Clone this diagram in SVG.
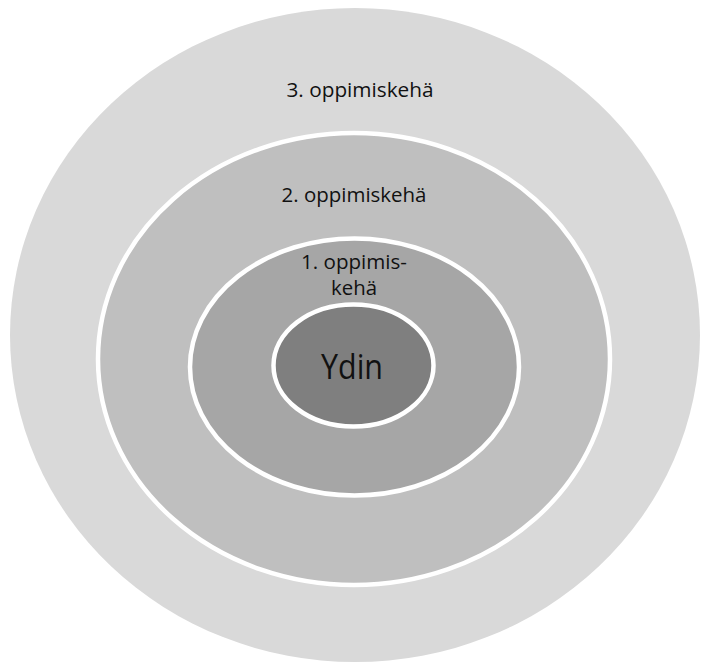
<svg xmlns="http://www.w3.org/2000/svg" width="701" height="663" viewBox="0 0 701 663">
<style>
.ring{stroke:#ffffff;stroke-width:4.5}
.lbl{font-family:"Open Sans","Liberation Sans",sans-serif;font-size:19.5px;fill:#111111;text-anchor:middle}
</style>
<rect width="701" height="663" fill="#ffffff"/>
<g id="ring3">
<ellipse cx="355" cy="335" rx="345" ry="327" fill="#d9d9d9"/>
<text class="lbl" x="360" y="97" textLength="147" lengthAdjust="spacingAndGlyphs">3. oppimiskehä</text>
</g>
<g id="ring2">
<ellipse class="ring" cx="354" cy="359" rx="256" ry="226" fill="#bfbfbf"/>
<text class="lbl" x="354" y="202" textLength="145" lengthAdjust="spacingAndGlyphs">2. oppimiskehä</text>
</g>
<g id="ring1">
<ellipse class="ring" cx="354.5" cy="367" rx="164.5" ry="128.5" fill="#a6a6a6"/>
<text class="lbl" x="354" y="269" textLength="106" lengthAdjust="spacingAndGlyphs">1. oppimis-</text>
<text class="lbl" x="354" y="295" textLength="46" lengthAdjust="spacingAndGlyphs">kehä</text>
</g>
<g id="core">
<ellipse class="ring" cx="353.5" cy="365.5" rx="80" ry="61" fill="#7f7f7f"/>
<text class="lbl" x="352" y="379" style="font-size:34px" textLength="62" lengthAdjust="spacingAndGlyphs">Ydin</text>
</g>
<g id="connectors"/>
</svg>
